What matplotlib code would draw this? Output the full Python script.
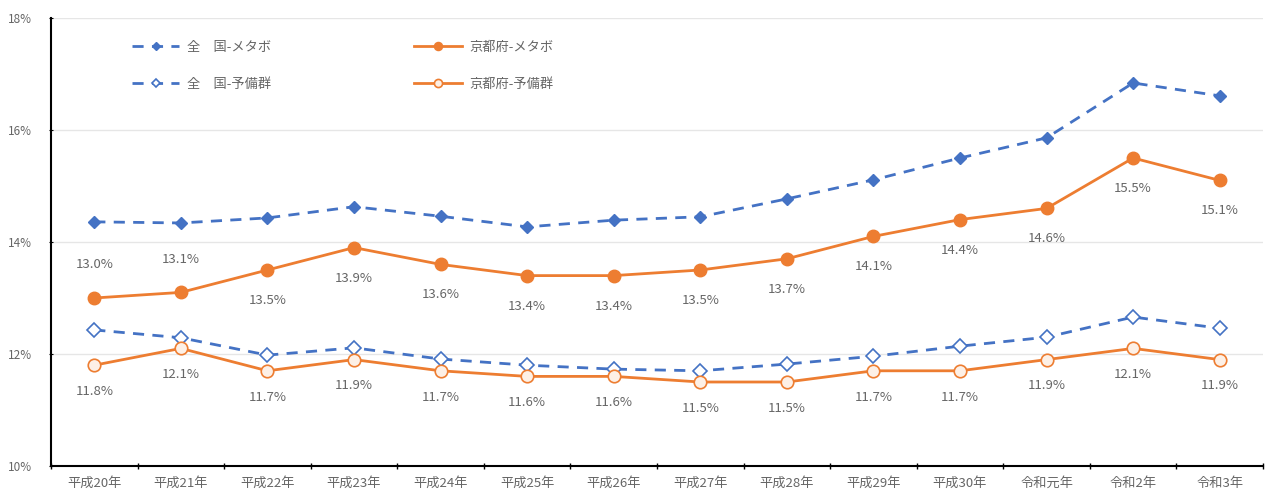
import matplotlib
matplotlib.use("Agg")
import matplotlib.pyplot as plt
from matplotlib.ticker import FuncFormatter, FixedLocator

plt.rcParams['font.family'] = ['Noto Sans CJK JP', 'DejaVu Sans']

categories = ["平成20年", "平成21年", "平成22年", "平成23年", "平成24年", "平成25年", "平成26年",
              "平成27年", "平成28年", "平成29年", "平成30年", "令和元年", "令和2年", "令和3年"]
national_metabo = [14.36, 14.34, 14.43, 14.63, 14.46, 14.27, 14.39, 14.45, 14.77, 15.11, 15.50, 15.86, 16.84, 16.61]
kyoto_metabo = [13.0, 13.1, 13.5, 13.9, 13.6, 13.4, 13.4, 13.5, 13.7, 14.1, 14.4, 14.6, 15.5, 15.1]
national_reserve = [12.43, 12.29, 11.98, 12.11, 11.91, 11.80, 11.73, 11.70, 11.82, 11.96, 12.14, 12.30, 12.66, 12.46]
kyoto_reserve = [11.8, 12.1, 11.7, 11.9, 11.7, 11.6, 11.6, 11.5, 11.5, 11.7, 11.7, 11.9, 12.1, 11.9]
kyoto_metabo_above = [True, True] + [False] * 12

blue = "#4472C4"
orange = "#ED7D31"
label_color = "#666666"

fig = plt.figure(figsize=(12.66, 4.98), dpi=100)
ax = fig.add_axes([51/1266, 32/498, 1212/1266, 448/498])

x = list(range(len(categories)))
l1, = ax.plot(x, national_metabo, color=blue, lw=2, ls=(0, (4, 3)), marker='D', ms=6.5,
              mfc=blue, mec=blue, label="全\u3000国-メタボ", zorder=3)
l2, = ax.plot(x, national_reserve, color=blue, lw=2, ls=(0, (4, 3)), marker='D', ms=7,
              mfc='white', mec=blue, mew=1.2, label="全\u3000国-予備群", zorder=3)
l3, = ax.plot(x, kyoto_metabo, color=orange, lw=2, marker='o', ms=9,
              mfc=orange, mec=orange, label="京都府-メタボ", zorder=4)
l4, = ax.plot(x, kyoto_reserve, color=orange, lw=2, marker='o', ms=9,
              mfc='#FDF0E6', mec=orange, mew=1.2, label="京都府-予備群", zorder=4)

for i, v in enumerate(kyoto_metabo):
    off = 24 if kyoto_metabo_above[i] else -22
    ax.annotate(f"{v:.1f}%", (i, v), xytext=(0, off), textcoords='offset points',
                ha='center', va='center', fontsize=9.5, color=label_color)
for i, v in enumerate(kyoto_reserve):
    ax.annotate(f"{v:.1f}%", (i, v), xytext=(0, -19), textcoords='offset points',
                ha='center', va='center', fontsize=9.5, color=label_color)

ax.set_xlim(-0.5, len(categories) - 0.5)
ax.set_ylim(10, 18)
ax.set_yticks([10, 12, 14, 16, 18])
ax.yaxis.set_major_formatter(FuncFormatter(lambda v, p: f"{v:.0f}%"))
ax.set_xticks(x)
ax.set_xticklabels(categories)
ax.xaxis.set_minor_locator(FixedLocator([i - 0.5 for i in range(len(categories) + 1)]))
ax.tick_params(axis='x', which='major', length=0, labelsize=9.5, labelcolor=label_color, pad=8)
ax.tick_params(axis='x', which='minor', length=4, direction='inout', width=1)
ax.tick_params(axis='y', length=3, direction='inout', labelsize=8.5, labelcolor=label_color, pad=12)

ax.grid(axis='y', color='#E6E6E6', lw=1)
ax.set_axisbelow(True)
for s in ['top', 'right']:
    ax.spines[s].set_visible(False)
ax.spines['left'].set_color('black')
ax.spines['bottom'].set_color('black')
ax.spines['left'].set_linewidth(1.5)
ax.spines['bottom'].set_linewidth(1.5)

leg = ax.legend(handles=[l1, l2, l3, l4], ncol=2, loc='upper left', bbox_to_anchor=(0.057, 0.975),
                frameon=False, fontsize=9.5, handlelength=3.6, columnspacing=10.8, labelspacing=1.8,
                handletextpad=0.6, markerscale=0.65)
for t in leg.get_texts():
    t.set_color(label_color)

fig.savefig("out.png", dpi=100)
